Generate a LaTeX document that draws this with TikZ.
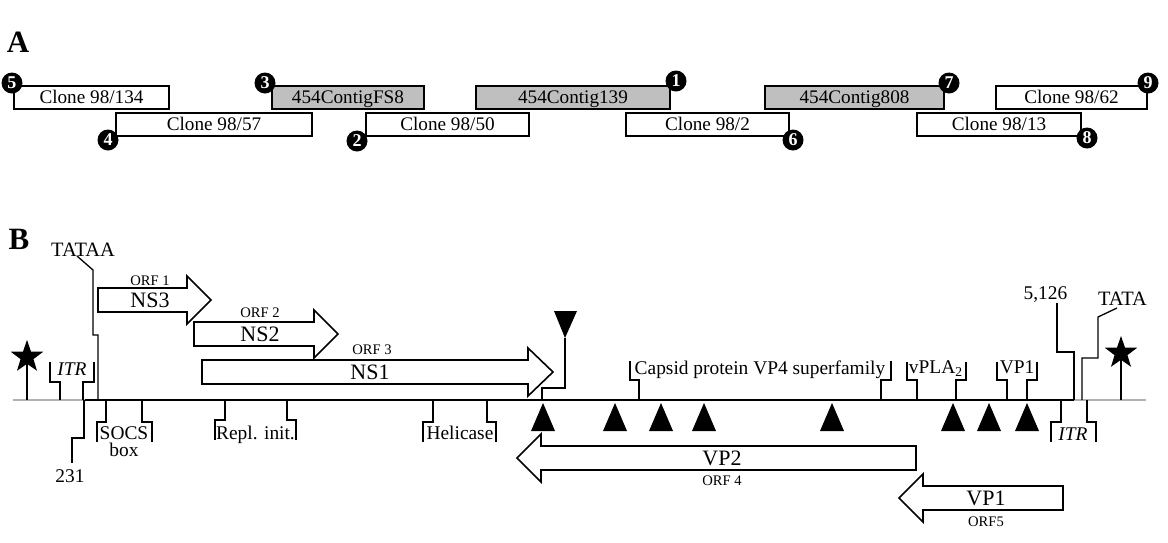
\documentclass[tikz,border=0pt]{standalone}
\usepackage{fontspec}
\setmainfont{Liberation Serif}
\usetikzlibrary{shapes.geometric,positioning}

\tikzset{
  clone/.style={draw, line width=0.9pt, minimum height=11.5pt, inner sep=0pt, text height=6.4pt, text depth=0pt, font=\fontsize{9.6}{11}\selectfont},
  contig/.style={clone, fill=black!25},
  num/.style={circle, fill=black, text=white, inner sep=0pt, minimum size=10.5pt, font=\bfseries\fontsize{9}{9}\selectfont},
  lbl/.style={inner sep=0pt, text height=6.4pt, text depth=0pt, font=\fontsize{9.7}{11}\selectfont},
  orf/.style={inner sep=0pt, text height=4.8pt, text depth=0pt, font=\fontsize{7.3}{8}\selectfont},
  gene/.style={inner sep=0pt, text height=7.3pt, text depth=0pt, font=\fontsize{11}{12}\selectfont},
  orfarrow/.style={draw, line width=0.8pt, fill=white},
  brk/.style={line width=0.65pt},
  starmark/.style={star, star points=5, star point ratio=2.5, fill=black, inner sep=0pt, minimum size=17pt}
}

\begin{document}
\begin{tikzpicture}[x=0.5pt, y=-0.5pt]
    \useasboundingbox (0,0) rectangle (1168,542);

    % Panel A
    \node[font=\bfseries\fontsize{15.5}{16}\selectfont] (pa) at (18,42) {A};

    \node[clone, minimum width=77.5pt] (c134) at (91.5,97.5) {Clone 98/134};
    \node[contig, minimum width=76pt] (fs8) at (348,97.5) {454ContigFS8};
    \node[contig, minimum width=97pt] (c139) at (573,97.5) {454Contig139};
    \node[contig, minimum width=89.5pt] (c808) at (854.5,97.5) {454Contig808};
    \node[clone, minimum width=75.5pt] (c62) at (1071.5,97.5) {Clone 98/62};

    \node[clone, minimum width=98pt] (c57) at (214,124.5) {Clone 98/57};
    \node[clone, minimum width=81.5pt] (c50) at (447.5,124.5) {Clone 98/50};
    \node[clone, minimum width=81.5pt] (c2) at (707.5,124.5) {Clone 98/2};
    \node[clone, minimum width=82pt] (c13) at (999,124.5) {Clone 98/13};

    \node[num] (n1) at (676,81) {1};
    \node[num] (n2) at (357,141) {2};
    \node[num] (n3) at (265,83) {3};
    \node[num] (n4) at (108,140) {4};
    \node[num] (n5) at (12,83) {5};
    \node[num] (n6) at (793,140) {6};
    \node[num] (n7) at (949,83) {7};
    \node[num] (n8) at (1087,138) {8};
    \node[num] (n9) at (1148,83) {9};

    % Panel B
    \node[font=\bfseries\fontsize{15.5}{16}\selectfont] (pb) at (19,239) {B};

    % genome line
    \coordinate (g0) at (85,400);
    \coordinate (g1) at (1074,400);
    \draw[black!30, line width=1pt] (13,400) -- (g0);
    \draw[black!30, line width=1pt] (g1) -- (1146,400);
    \draw[line width=1.2pt] (g0) -- (g1);

    % stars
    \node[starmark] (sl) at (27,357) {};
    \node[starmark] (sr) at (1121,353) {};
    \draw[line width=0.8pt] (sl.center) -- (27,400);
    \draw[line width=0.8pt] (sr.center) -- (1121,400);

    % promoters and ends
    \node[lbl, text height=6.7pt, font=\fontsize{10.2}{11}\selectfont] (tataa) at (83,250) {TATAA};
    \draw[brk] (77,256) -- (93,270) -- (93,335) -- (98,335) -- (98,400);
    \node[lbl, text height=6.7pt, font=\fontsize{10.2}{11}\selectfont] (tata) at (1122.5,299) {TATA};
    \draw[brk] (1082,400) -- (1082,358) -- (1098,358) -- (1098,317) -- (1117,308);
    \node[lbl] (start) at (70,476.5) {231};
    \draw[brk] (84,400) -- (84,438) -- (72,438) -- (72,463);
    \node[lbl] (stop) at (1045.5,293.5) {5,126};
    \draw[brk] (1074,400) -- (1074,352) -- (1057,352) -- (1057,303);

    % domains above
    \node[lbl, font=\itshape\fontsize{9.7}{11}\selectfont] (itrl) at (72,369) {ITR};
    \draw[brk] (60,400) -- (60,382) -- (50,382) -- (50,362);
    \draw[brk] (83,400) -- (83,382) -- (94,382) -- (94,362);
    \node[lbl] (capsid) at (760,368.5) {Capsid protein VP4 superfamily};
    \draw[brk] (639,400) -- (639,380) -- (630,380) -- (630,361);
    \draw[brk] (881,400) -- (881,380) -- (891,380) -- (891,361);
    \node[lbl] (vpla) at (936,367.5) {vPLA\textsubscript{2}};
    \draw[brk] (917,400) -- (917,380) -- (907,380) -- (907,362);
    \draw[brk] (956,400) -- (956,380) -- (966,380) -- (966,362);
    \node[lbl] (vpone) at (1017,367.5) {VP1};
    \draw[brk] (1007,400) -- (1007,380) -- (997,380) -- (997,362);
    \draw[brk] (1027,400) -- (1027,380) -- (1037,380) -- (1037,362);

    % domains below
    \node[inner sep=0pt, anchor=north, align=center, font=\fontsize{9.7}{8.4}\selectfont] (socs) at (124,426.5) {SOCS\\box};
    \draw[brk] (106,400) -- (106,422) -- (97,422) -- (97,442);
    \draw[brk] (142,400) -- (142,422) -- (152,422) -- (152,442);
    \node[lbl] (repl) at (255.5,433.5) {Repl. init.};
    \draw[brk] (225,400) -- (225,420) -- (215,420) -- (215,440);
    \draw[brk] (287,400) -- (287,420) -- (296,420) -- (296,440);
    \node[lbl] (heli) at (460,433.5) {Helicase};
    \draw[brk] (433,400) -- (433,422) -- (423,422) -- (423,442);
    \draw[brk] (487,400) -- (487,422) -- (496,422) -- (496,442);
    \node[lbl, font=\itshape\fontsize{9.7}{11}\selectfont] (itrr) at (1073,434.5) {ITR};
    \draw[brk] (1061,400) -- (1061,422) -- (1051,422) -- (1051,442);
    \draw[brk] (1087,400) -- (1087,422) -- (1096,422) -- (1096,442);

    % sites
    \fill (554,311) -- (577,311) -- (565,338) -- cycle;
    \draw[line width=0.8pt] (565,338) -- (565,388) -- (542,388) -- (542,400);
    \fill (543,403) -- (531,431) -- (555,431) -- cycle;
    \fill (615,403) -- (603,431) -- (627,431) -- cycle;
    \fill (661,403) -- (649,431) -- (673,431) -- cycle;
    \fill (704,403) -- (692,431) -- (716,431) -- cycle;
    \fill (832,403) -- (820,431) -- (844,431) -- cycle;
    \fill (953,403) -- (941,431) -- (965,431) -- cycle;
    \fill (989,403) -- (977,431) -- (1001,431) -- cycle;
    \fill (1027,403) -- (1015,431) -- (1039,431) -- cycle;

    % ORFs
    \draw[orfarrow] (98,288) -- (187,288) -- (187,276) -- (211,300) -- (187,324) -- (187,312) -- (98,312) -- cycle;
    \node[orf] (orf1) at (150,281) {ORF 1};
    \node[gene] (ns3) at (150,300) {NS3};

    \draw[orfarrow] (194,322) -- (314,322) -- (314,310) -- (338,334) -- (314,358) -- (314,346) -- (194,346) -- cycle;
    \node[orf] (orf2) at (260,313) {ORF 2};
    \node[gene] (ns2) at (260,334) {NS2};

    \draw[orfarrow] (202,360) -- (528,360) -- (528,348) -- (553,372) -- (528,396) -- (528,384) -- (202,384) -- cycle;
    \node[orf] (orf3) at (372,350) {ORF 3};
    \node[gene] (ns1) at (370,372) {NS1};

    \draw[orfarrow] (916,446) -- (541,446) -- (541,434) -- (517,458) -- (541,482) -- (541,470) -- (916,470) -- cycle;
    \node[gene] (vp2) at (722,458) {VP2};
    \node[orf] (orf4) at (722,481) {ORF 4};

    \draw[orfarrow] (1063,486) -- (923,486) -- (923,474) -- (899,498) -- (923,522) -- (923,510) -- (1063,510) -- cycle;
    \node[gene] (vp1) at (986,498) {VP1};
    \node[orf] (orf5) at (986,522) {ORF5};
\end{tikzpicture}
\end{document}
